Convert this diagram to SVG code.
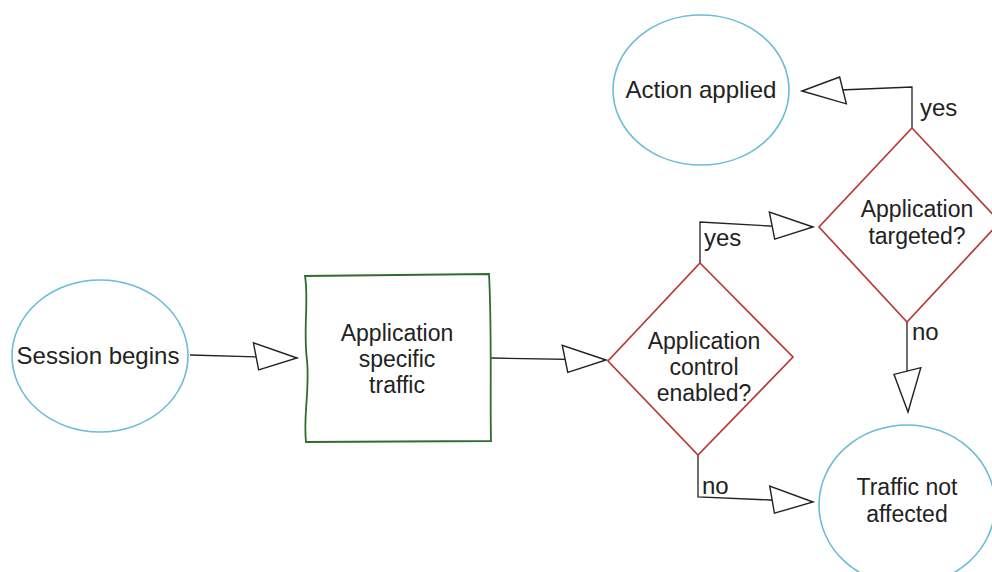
<svg xmlns="http://www.w3.org/2000/svg" width="992" height="572" viewBox="0 0 992 572">
<defs>
<marker id="tri" markerUnits="userSpaceOnUse" markerWidth="60" markerHeight="40" viewBox="-50 -20 60 40" refX="0" refY="0" orient="auto">
<path d="M0,0 L-44,-14 L-38,13 Z" fill="#fff" stroke="#222" stroke-width="1.4" stroke-linejoin="miter"/>
</marker>
<style>
.ell{fill:none;stroke:#6bbcd6;stroke-width:1.6}
.rect{fill:none;stroke:#2f6e2f;stroke-width:1.8}
.dia{fill:none;stroke:#b83a3a;stroke-width:1.7}
.con{fill:none;stroke:#222;stroke-width:1.3}
text{font-family:"Liberation Sans",Arial,sans-serif;font-size:24px;fill:#222;text-anchor:middle}
.ml{font-size:23px}
.lbl{text-anchor:start}
</style>
</defs>
<rect width="992" height="572" fill="#fff"/>
<g id="connectors">
<path class="con" d="M190,355 L297,358" marker-end="url(#tri)"/>
<path class="con" d="M491,358 L606,360" marker-end="url(#tri)"/>
<path class="con" d="M700,263 L700,222 L770,226 L813,227" marker-end="url(#tri)"/>
<path class="con" d="M912,128 L912,87 L840,90 L802,91" marker-end="url(#tri)"/>
<path class="con" d="M907,322 L907,375 L908,412" marker-end="url(#tri)"/>
<path class="con" d="M698,455 L698,497 L770,500 L813,502" marker-end="url(#tri)"/>
<text class="lbl" x="704" y="246">yes</text>
<text class="lbl" x="920" y="116">yes</text>
<text class="lbl" x="912" y="340">no</text>
<text class="lbl" x="702" y="494">no</text>
</g>
<g id="session">
<ellipse class="ell" cx="100" cy="356" rx="88" ry="76"/>
<text x="98" y="364">Session begins</text>
</g>
<g id="traffic">
<path class="rect" d="M305,276 C309,300 303,330 307,360 C310,390 303,415 306,442 L491,441 C490,400 492,330 489,274 L305,276 Z"/>
<text class="ml" x="397" y="341">Application</text>
<text class="ml" x="397" y="367">specific</text>
<text class="ml" x="397" y="393">traffic</text>
</g>
<g id="control">
<path class="dia" d="M700,263 L793,357 L698,455 L608,361 Z"/>
<text class="ml" x="704" y="349">Application</text>
<text class="ml" x="704" y="375">control</text>
<text class="ml" x="704" y="401">enabled?</text>
</g>
<g id="targeted">
<path class="dia" d="M912,128 L1000,222 L907,322 L819,227 Z"/>
<text class="ml" x="917" y="217">Application</text>
<text class="ml" x="917" y="244">targeted?</text>
</g>
<g id="action">
<ellipse class="ell" cx="701" cy="90" rx="88" ry="75"/>
<text x="701" y="98">Action applied</text>
</g>
<g id="notaffected">
<ellipse class="ell" cx="907" cy="505" rx="88" ry="80"/>
<text class="ml" x="907" y="495">Traffic not</text>
<text class="ml" x="907" y="522">affected</text>
</g>
</svg>
